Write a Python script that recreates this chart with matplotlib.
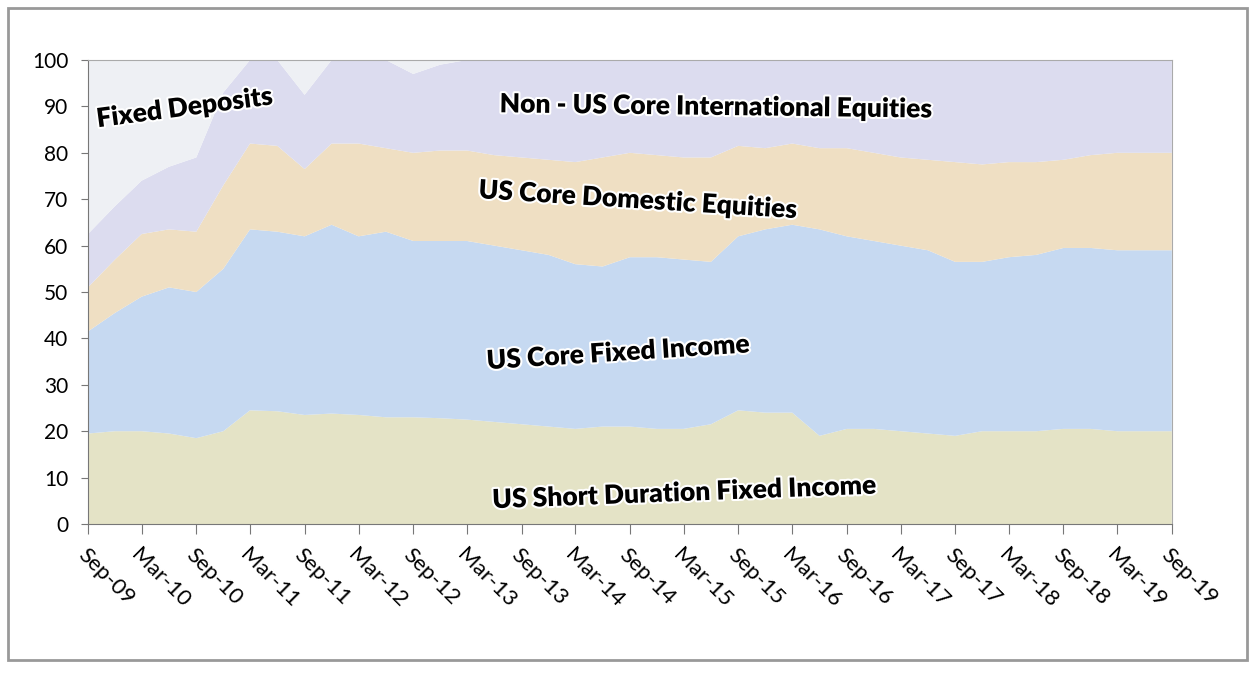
import pandas as pd
import matplotlib.pyplot as plt
import matplotlib.patheffects as pe
from matplotlib.patches import Rectangle

# Quarterly allocation (%), Sep-09 .. Sep-19
dates = pd.date_range('2009-09-01', '2019-09-01', freq='3MS')

short_duration = [19.5, 20, 20, 19.5, 18.5, 20, 24.5, 24.3, 23.5, 23.8, 23.5,
                  23, 23, 22.8, 22.5, 22, 21.5, 21, 20.5, 21, 21, 20.5, 20.5,
                  21.5, 24.5, 24, 24, 19, 20.5, 20.5, 20, 19.5, 19, 20, 20,
                  20, 20.5, 20.5, 20, 20, 20]
core_fixed = [22, 25.5, 29, 31.5, 31.5, 35, 39, 38.7, 38.5, 40.7, 38.5,
              40, 38, 38.2, 38.5, 38, 37.5, 37, 35.5, 34.5, 36.5, 37, 36.5,
              35, 37.5, 39.5, 40.5, 44.5, 41.5, 40.5, 40, 39.5, 37.5, 36.5,
              37.5, 38, 39, 39, 39, 39, 39]
domestic_eq = [9.5, 11.5, 13.5, 12.5, 13, 18, 18.5, 18.5, 14.5, 17.5, 20,
               18, 19, 19.5, 19.5, 19.5, 20, 20.5, 22, 23.5, 22.5, 22, 22,
               22.5, 19.5, 17.5, 17.5, 17.5, 19, 19, 19, 19.5, 21.5, 21,
               20.5, 20, 19, 20, 21, 21, 21]
intl_eq = [11.5, 11.5, 11.5, 13.5, 16, 20, 18, 18.5, 16, 18, 18,
           19, 17, 18.5, 19.5, 20.5, 21, 21.5, 22, 21, 20, 20.5, 21,
           21, 18.5, 19, 18, 19, 19, 20, 21, 21.5, 22, 22.5,
           22, 22, 21.5, 20.5, 20, 20, 20]
fixed_deposits = [37.5, 31.5, 26, 23, 21, 7, 0, 0, 7.5, 0, 0,
                  0, 3, 1, 0, 0, 0, 0, 0, 0, 0, 0, 0,
                  0, 0, 0, 0, 0, 0, 0, 0, 0, 0, 0,
                  0, 0, 0, 0, 0, 0, 0]

labels = ['US Short Duration Fixed Income', 'US Core Fixed Income',
          'US Core Domestic Equities', 'Non - US Core International Equities',
          'Fixed Deposits']
colors = ['#e4e3c6', '#c6d9f1', '#efdfc3', '#dcdcef', '#eef0f4']

plt.rcParams['font.family'] = ['Lato', 'DejaVu Sans']

fig = plt.figure(figsize=(12.53, 6.73), dpi=100)
ax = fig.add_axes([0.0702, 0.2214, 0.865, 0.6894])

ax.stackplot(dates, short_duration, core_fixed, domestic_eq, intl_eq,
             fixed_deposits, colors=colors, labels=labels, linewidth=0)

ax.set_xlim(dates[0], dates[-1])
ax.set_ylim(0, 100)
ax.set_yticks(range(0, 101, 10))
ax.tick_params(axis='y', labelsize=15, length=5, color='#777', pad=9)

ticks = dates[::2]
ax.set_xticks(ticks)
ax.set_xticklabels([d.strftime('%b-%y') for d in ticks], rotation=-45,
                   ha='left', va='top', rotation_mode='anchor', fontsize=16)
ax.tick_params(axis='x', length=7, color='#777', pad=8)

for side in ['left', 'bottom']:
    ax.spines[side].set_color('#777')
for side in ['top', 'right']:
    ax.spines[side].set_color('#aaa')

# series names written on the areas
halo = [pe.withStroke(linewidth=3, foreground='white')]
notes = [
    ('Fixed Deposits', 0.089, 0.897, 7.5),
    ('Non - US Core International Equities', 0.579, 0.899, -0.7),
    ('US Core Domestic Equities', 0.507, 0.698, -3.6),
    ('US Core Fixed Income', 0.489, 0.369, 3.7),
    ('US Short Duration Fixed Income', 0.550, 0.067, 2.2),
]
for text, x, y, rot in notes:
    ax.text(x, y, text, transform=ax.transAxes, ha='center', va='center',
            fontsize=19, fontweight='heavy', rotation=rot, path_effects=halo)

# outer chart border
fig.patches.append(Rectangle((0.006, 0.019), 0.989, 0.969,
                             transform=fig.transFigure, fill=False,
                             edgecolor='#999', linewidth=2))

fig.savefig('out.png', dpi=100)
